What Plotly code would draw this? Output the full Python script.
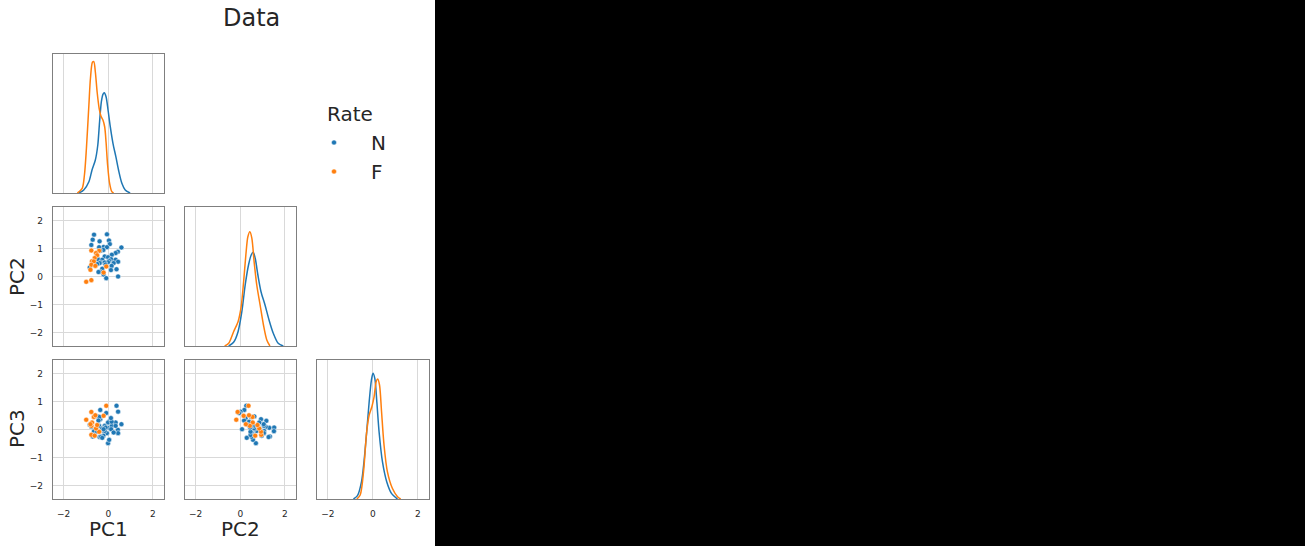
import plotly.graph_objects as go

W, H = 1305, 546

# ---- data ----
rates = ["N", "F"]
colors = {"N": "#1f77b4", "F": "#ff7f0e"}

pc1_N = [-0.06, -0.64, -0.70, 0.03, -0.39, 0.07, -0.76, -0.21, -0.41, -0.06, 0.59, -0.22,
         -0.36, 0.43, 0.33, 0.16, -0.16, -0.01, -0.46, 0.13, -0.27, 0.33, 0.04, 0.44,
         -0.01, -0.33, -0.16, 0.24, -0.39, -0.65, -0.50, -0.12, 0.15, -0.83, -0.27, 0.37,
         0.12, -0.36, -0.44, -0.21, 0.44, -0.09]
pc2_N = [1.52, 1.51, 1.33, 1.30, 1.27, 1.17, 1.14, 1.07, 1.06, 1.06, 1.05, 0.96,
         0.93, 0.90, 0.85, 0.79, 0.73, 0.70, 0.63, 0.63, 0.61, 0.61, 0.57, 0.54,
         0.52, 0.51, 0.51, 0.49, 0.49, 0.46, 0.46, 0.44, 0.39, 0.33, 0.29, 0.27,
         0.24, 0.18, 0.17, 0.08, 0.01, -0.05]
pc3_N = [0.08, -0.05, -0.24, 0.07, -0.26, 0.32, 0.11, -0.04, 0.14, -0.12, 0.20, -0.21,
         0.38, 0.00, 0.26, 0.14, -0.04, -0.48, 0.48, 0.02, 0.05, 0.14, -0.36, -0.12,
         0.26, -0.25, 0.14, -0.10, 0.46, -0.19, -0.07, 0.08, 0.29, 0.18, -0.29, 0.86,
         0.42, 0.71, 0.33, 0.02, 0.65, 0.60]

pc1_F = [-0.76, -0.41, -0.55, -0.50, -0.61, -0.73, -0.65, -0.76, -0.58, -0.09, -0.80, -0.21, -0.76, -0.99]
pc2_F = [0.94, 0.93, 0.85, 0.77, 0.67, 0.56, 0.55, 0.43, 0.39, 0.37, 0.25, 0.15, -0.12, -0.18]
pc3_F = [-0.18, -0.07, 0.05, 0.17, -0.21, 0.26, 0.46, 0.14, 0.52, 0.86, 0.20, 0.50, 0.64, 0.36]

# density curves on the diagonal (relative density units)
kde_pc1_N_x = [-1.32, -1.10, -0.87, -0.73, -0.58, -0.47, -0.39, -0.31, -0.24, -0.18, -0.10,
               -0.01, 0.09, 0.21, 0.34, 0.46, 0.61, 0.76, 0.98]
kde_pc1_N_y = [0.0, 3.0, 11.3, 23.0, 33.0, 48.0, 71.3, 91.3, 98.7, 100.3, 96.3,
               83.0, 66.3, 49.7, 36.3, 23.0, 9.7, 3.0, 0.0]
kde_pc1_F_x = [-1.39, -1.17, -1.07, -0.98, -0.87, -0.80, -0.71, -0.65, -0.58, -0.50, -0.41,
               -0.33, -0.24, -0.16, -0.10, -0.03, 0.06, 0.16, 0.24]
kde_pc1_F_y = [0.0, 4.7, 18.0, 44.7, 88.0, 114.7, 130.7, 131.3, 121.0, 101.0, 84.7,
               77.0, 73.0, 66.0, 51.0, 28.0, 9.7, 1.3, 0.0]

kde_pc2_N_x = [-0.52, -0.30, -0.10, 0.07, 0.22, 0.37, 0.49, 0.58, 0.67, 0.79, 0.93,
               1.11, 1.29, 1.48, 1.70, 1.93]
kde_pc2_N_y = [0.0, 3.7, 14.3, 34.3, 61.0, 81.0, 91.0, 93.7, 87.7, 71.0, 54.3,
               41.0, 26.0, 12.7, 2.7, 0.0]
kde_pc2_F_x = [-0.70, -0.52, -0.30, -0.10, 0.04, 0.15, 0.25, 0.34, 0.43, 0.52, 0.62,
               0.74, 0.89, 1.04, 1.19, 1.33]
kde_pc2_F_y = [0.0, 2.7, 14.3, 24.3, 39.3, 64.3, 91.0, 109.3, 114.3, 107.7, 84.3,
               61.0, 41.0, 21.0, 6.0, 0.0]

kde_pc3_N_x = [-0.86, -0.68, -0.50, -0.39, -0.27, -0.16, -0.06, 0.01, 0.09, 0.18, 0.28,
               0.43, 0.62, 0.83, 1.10]
kde_pc3_N_y = [0.0, 3.3, 17.3, 37.3, 67.3, 97.3, 119.0, 125.7, 120.7, 97.3, 67.3,
               37.3, 17.3, 5.7, 0.0]
kde_pc3_F_x = [-0.71, -0.56, -0.41, -0.27, -0.16, -0.04, 0.06, 0.15, 0.22, 0.30, 0.39,
               0.50, 0.65, 0.87, 1.10, 1.24]
kde_pc3_F_y = [0.0, 4.0, 27.3, 67.3, 84.0, 92.3, 102.3, 117.3, 120.0, 114.0, 87.3,
               54.0, 27.3, 10.7, 2.3, 0.0]

data = {
    "N": {"PC1": pc1_N, "PC2": pc2_N, "PC3": pc3_N},
    "F": {"PC1": pc1_F, "PC2": pc2_F, "PC3": pc3_F},
}
kdes = {
    "PC1": {"N": (kde_pc1_N_x, kde_pc1_N_y), "F": (kde_pc1_F_x, kde_pc1_F_y)},
    "PC2": {"N": (kde_pc2_N_x, kde_pc2_N_y), "F": (kde_pc2_F_x, kde_pc2_F_y)},
    "PC3": {"N": (kde_pc3_N_x, kde_pc3_N_y), "F": (kde_pc3_F_x, kde_pc3_F_y)},
}
DIAG_TOP = 139.0

tick_vals_x = [-2, 0, 2]
tick_text_x = ["\u22122", "0", "2"]
tick_vals_y = [-2, -1, 0, 1, 2]
tick_text_y = ["\u22122", "\u22121", "0", "1", "2"]

# ---- layout helpers ----
TEXT = "#262626"
FONT = "DejaVu Sans"
XR = [-2.48, 2.5]
YR = [-2.48, 2.5]


def px_x(a, b):
    return [a / W, b / W]


def px_y(top, bottom):
    return [1 - bottom / H, 1 - top / H]


cols = [px_x(53, 164), px_x(185, 296), px_x(317, 429)]
rows = [px_y(54, 193), px_y(207, 346), px_y(360, 499)]

fig = go.Figure()

panels = [
    (1, 0, 0, "diag", "PC1", None),
    (2, 1, 0, "scatter", "PC1", "PC2"),
    (3, 1, 1, "diag", "PC2", None),
    (4, 2, 0, "scatter", "PC1", "PC3"),
    (5, 2, 1, "scatter", "PC2", "PC3"),
    (6, 2, 2, "diag", "PC3", None),
]

layout_axes = {}
legend_done = set()
for idx, r, c, kind, xv, yv in panels:
    xa = "x" if idx == 1 else f"x{idx}"
    ya = "y" if idx == 1 else f"y{idx}"
    xkey = "xaxis" if idx == 1 else f"xaxis{idx}"
    ykey = "yaxis" if idx == 1 else f"yaxis{idx}"
    if kind == "diag":
        for rt in rates:
            kx, ky = kdes[xv][rt]
            fig.add_trace(go.Scatter(x=kx, y=ky, mode="lines", xaxis=xa, yaxis=ya,
                                     line=dict(color=colors[rt], width=1.5, shape="spline",
                                               smoothing=0.8),
                                     showlegend=False, hoverinfo="skip"))
    else:
        for rt in rates:
            show = rt not in legend_done
            legend_done.add(rt)
            fig.add_trace(go.Scatter(x=data[rt][xv], y=data[rt][yv], mode="markers",
                                     xaxis=xa, yaxis=ya, name=rt, showlegend=show,
                                     marker=dict(color=colors[rt], size=5,
                                                 line=dict(color="white", width=0.5))))
    bottom = r == 2
    left = c == 0 and kind == "scatter"
    layout_axes[xkey] = dict(
        domain=cols[c], range=XR, anchor=ya, showline=True, mirror=True,
        linecolor="#7f7f7f", linewidth=1.2, showgrid=True, gridcolor="#d9d9d9",
        gridwidth=1, zeroline=False, tickvals=tick_vals_x, ticktext=tick_text_x,
        showticklabels=bottom, ticks="", ticklabelstandoff=6,
        tickfont=dict(size=9, color=TEXT, family=FONT),
    )
    if kind == "diag":
        layout_axes[ykey] = dict(
            domain=rows[r], range=[0, DIAG_TOP], anchor=xa, showline=True,
            mirror=True, linecolor="#7f7f7f", linewidth=1.2, showgrid=False,
            zeroline=False, showticklabels=False, ticks="",
        )
    else:
        layout_axes[ykey] = dict(
            domain=rows[r], range=YR, anchor=xa, showline=True, mirror=True,
            linecolor="#7f7f7f", linewidth=1.2, showgrid=True, gridcolor="#d9d9d9",
            gridwidth=1, zeroline=False, tickvals=tick_vals_y, ticktext=tick_text_y,
            showticklabels=left, ticks="", ticklabelstandoff=7,
            tickfont=dict(size=9, color=TEXT, family=FONT),
        )

annotations = []


def ann(text, x, y, size, angle=0):
    annotations.append(dict(text=text, x=x / W, y=1 - y / H, xref="paper", yref="paper",
                            showarrow=False, textangle=angle, xanchor="center",
                            yanchor="middle", font=dict(size=size, color=TEXT, family=FONT)))


ann("Data", 251, 18, 24)
ann("PC1", 108, 529, 20)
ann("PC2", 240, 529, 20)
ann("PC2", 17, 277, 20, -90)
ann("PC3", 17, 429, 20, -90)
ann("Rate", 350, 114, 20)

fig.update_layout(
    width=W, height=H, margin=dict(l=0, r=0, t=0, b=0),
    paper_bgcolor="white", plot_bgcolor="white",
    font=dict(family=FONT, color=TEXT),
    annotations=annotations,
    shapes=[dict(type="rect", xref="paper", yref="paper", x0=435 / W, x1=1, y0=0, y1=1,
                 fillcolor="black", line=dict(width=0), layer="below")],
    legend=dict(x=297 / W, y=1 - 123 / H, xanchor="left", yanchor="top",
                font=dict(size=20, color=TEXT, family=FONT), bgcolor="rgba(0,0,0,0)",
                itemsizing="trace", itemwidth=64),
    showlegend=True,
    **layout_axes,
)

fig.write_html("out.html")
